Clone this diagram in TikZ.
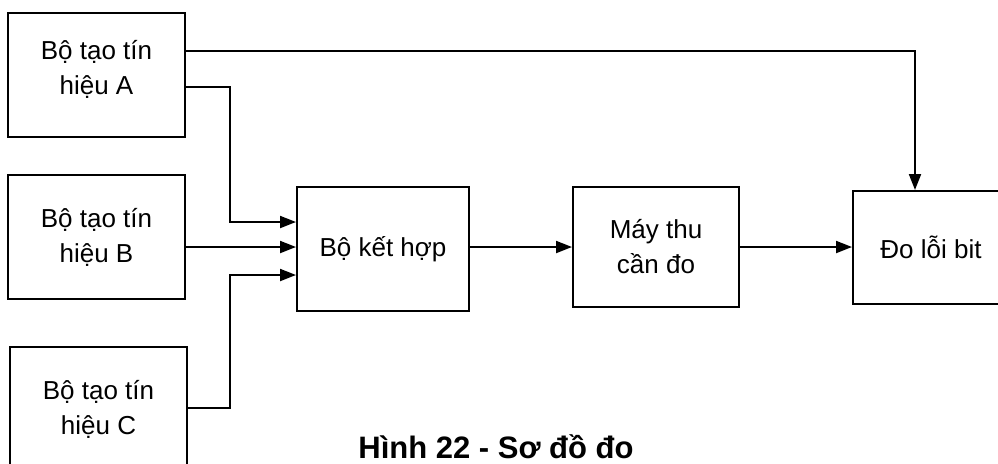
\documentclass[tikz,border=0pt]{standalone}
\usepackage{fontspec}
\setmainfont{Liberation Sans}
\usepackage{tikz}
\usetikzlibrary{arrows.meta, calc}

\tikzset{
	blk/.style={draw, line width=1pt, align=center, inner sep=0pt,
		font=\fontsize{13}{17.5}\selectfont},
	conn/.style={line width=1pt, -{Triangle[length=8pt, width=6pt]}},
}

\begin{document}
\begin{tikzpicture}[x=0.5pt, y=-0.5pt]
	\useasboundingbox (0,0) rectangle (998,463);
	\clip (0,0) rectangle (998,463);

	% signal generators
	\node[blk, minimum width=88.5pt, minimum height=62pt, text depth=8pt] (genA) at (96.5,75) {Bộ tạo tín\\hiệu A};
	\node[blk, minimum width=88.5pt, minimum height=62pt] (genB) at (96.5,237) {Bộ tạo tín\\hiệu B};
	\node[blk, minimum width=88.5pt, minimum height=62pt] (genC) at (98.5,409) {Bộ tạo tín\\hiệu C};

	% chain
	\node[blk, minimum width=86pt, minimum height=62pt] (comb) at (383,249) {Bộ kết hợp};
	\node[blk, minimum width=83pt, minimum height=60pt] (rx) at (656,247) {Máy thu\\cần đo};
	\node[blk, minimum width=78pt, minimum height=56.5pt] (ber) at (931,247.5) {Đo lỗi bit};

	\coordinate (mA) at ($(comb.west)+(-66,-27)$);
	\coordinate (mC) at ($(comb.west)+(-66,26)$);

	\draw[conn] ($(genA.east)+(0,-24)$) -| ($(ber.north)+(-16,0)$);
	\draw[conn] ($(genA.east)+(0,12)$) -| (mA) -- ($(comb.west)+(0,-27)$);
	\draw[conn] ($(genB.east)+(0,10)$) -- ($(comb.west)+(0,-2)$);
	\draw[conn] ($(genC.east)+(0,-1)$) -| (mC) -- ($(comb.west)+(0,26)$);
	\draw[conn] ($(comb.east)+(0,-2)$) -- (rx.west);
	\draw[conn] (rx.east) -- (rx.east -| ber.west);

	\node[font=\fontsize{15.5}{18}\selectfont\bfseries, anchor=base] (cap) at (496,458) {Hình 22 - Sơ đồ đo};
\end{tikzpicture}
\end{document}
